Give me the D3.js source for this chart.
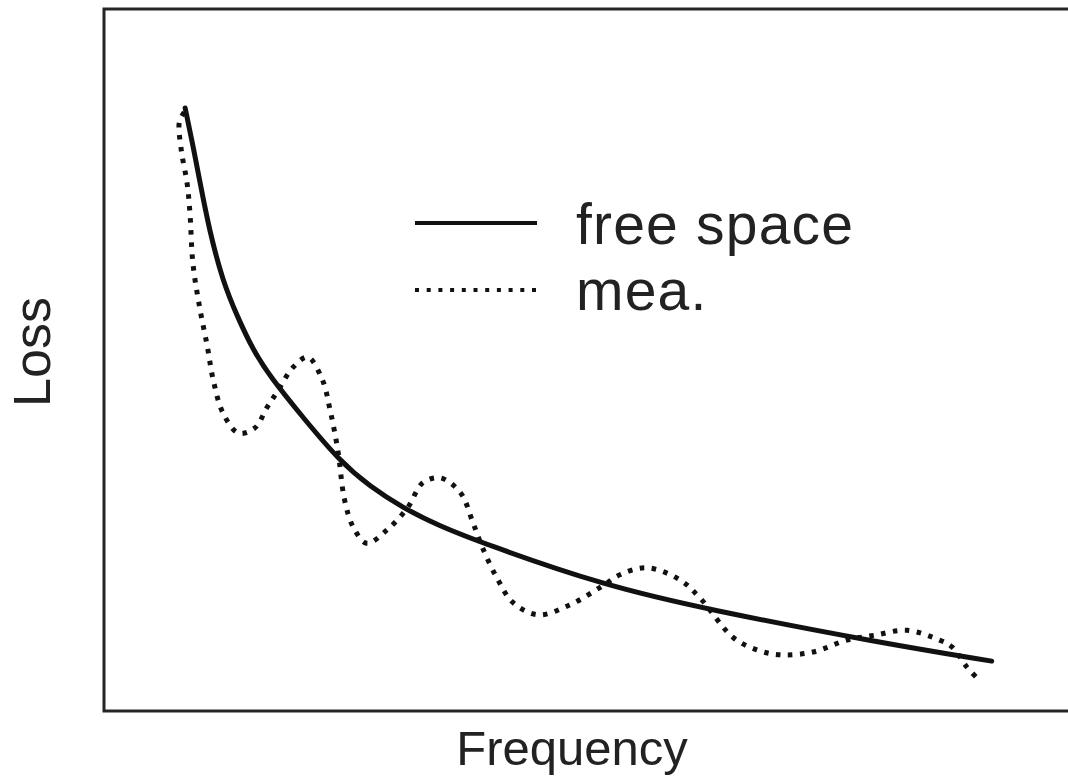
<!DOCTYPE html>
<html>
<head>
<meta charset="utf-8">
<script src="https://cdn.jsdelivr.net/npm/d3@7"></script>
<style>
    body { margin: 0; background: #fff; }
    text { font-family: "Liberation Sans", Arial, sans-serif; fill: #222; }
</style>
</head>
<body>
<div id="chart"></div>
<script>
// free space curve (frequency, loss)
var freeFreq = [8.4, 9.2, 9.9, 10.9, 12.3, 13.8, 15.4, 17.2, 20.6, 24.4, 27.5, 31.0, 34.5, 39.2, 51.7, 62.7, 80.0, 91.9];
var freeLoss = [85.9, 80.6, 75.6, 68.5, 61.2, 56.2, 51.5, 47.6, 41.8, 35.6, 32.0, 28.9, 26.5, 23.9, 17.9, 14.4, 9.8, 7.1];

// measured curve
var meaFreq = [8.3, 7.8, 8.0, 8.6, 8.9, 9.2, 9.9, 10.7, 11.3, 12.3, 13.9, 15.6, 16.9, 17.9, 19.6, 21.1,
    22.6, 23.4, 24.2, 24.9, 25.8, 27.2, 29.3, 31.4, 33.0, 34.8, 36.9, 38.2, 39.2, 40.7, 42.3, 44.9,
    48.2, 51.7, 53.4, 56.2, 59.6, 61.7, 65.1, 67.6, 70.0, 73.4, 76.9, 79.8, 83.1, 86.5, 87.8, 89.3, 90.3];
var meaLoss = [85.3, 83.9, 79.9, 75.2, 70.9, 63.8, 57.5, 51.9, 47.2, 42.5, 39.6, 40.3, 43.3, 45.4, 49.0, 50.4,
    47.2, 42.9, 37.2, 30.1, 26.2, 23.9, 25.8, 28.9, 32.5, 33.2, 31.1, 26.8, 23.2, 18.9, 15.5, 13.7,
    15.1, 17.9, 19.4, 20.4, 18.7, 16.1, 10.5, 8.7, 8.0, 8.4, 10.1, 10.8, 11.5, 10.1, 9.1, 6.3, 4.8];

var seriesNames = ["free space", "mea."];

var width = 1068,
    height = 778,
    margin = { top: 9, right: -2, bottom: 67, left: 104 };

var svg = d3.select("#chart").append("svg")
    .attr("width", width)
    .attr("height", height);

var x = d3.scaleLinear().domain([0, 100]).range([margin.left, width - margin.right]);
var y = d3.scaleLinear().domain([0, 100]).range([height - margin.bottom, margin.top]);

// frame (right side runs off the picture)
svg.append("rect")
    .attr("x", x(0))
    .attr("y", y(100))
    .attr("width", width + 20 - x(0))
    .attr("height", y(0) - y(100))
    .attr("fill", "none")
    .attr("stroke", "#262626")
    .attr("stroke-width", 3);

var freeLine = d3.line()
    .x(function (d) { return x(d[0]); })
    .y(function (d) { return y(d[1]); })
    .curve(d3.curveBasis);

var meaLine = d3.line()
    .x(function (d) { return x(d[0]); })
    .y(function (d) { return y(d[1]); })
    .curve(d3.curveCatmullRom.alpha(0.5));

var freeData = d3.zip(freeFreq, freeLoss);
var meaData = d3.zip(meaFreq, meaLoss);

svg.append("path")
    .datum(meaData)
    .attr("d", meaLine)
    .attr("fill", "none")
    .attr("stroke", "#111")
    .attr("stroke-width", 5)
    .attr("stroke-dasharray", "4.5 7.5");

svg.append("path")
    .datum(freeData)
    .attr("d", freeLine)
    .attr("fill", "none")
    .attr("stroke", "#111")
    .attr("stroke-width", 5)
    .attr("stroke-linecap", "round");

// legend
var legend = svg.append("g");

legend.append("line")
    .attr("x1", 415).attr("x2", 537)
    .attr("y1", 223).attr("y2", 223)
    .attr("stroke", "#111")
    .attr("stroke-width", 4);

legend.append("line")
    .attr("x1", 415).attr("x2", 537)
    .attr("y1", 290).attr("y2", 290)
    .attr("stroke", "#111")
    .attr("stroke-width", 4)
    .attr("stroke-dasharray", "4 7.7");

legend.selectAll("text")
    .data(seriesNames)
    .enter()
    .append("text")
    .attr("x", 576)
    .attr("y", function (d, i) { return 244 + i * 66; })
    .style("font-size", "57px")
    .style("letter-spacing", "1.2px")
    .text(function (d) { return d; });

// axis titles
svg.append("text")
    .attr("x", (x(0) + 1040) / 2)
    .attr("y", 765)
    .attr("text-anchor", "middle")
    .style("font-size", "49px")
    .text("Frequency");

svg.append("text")
    .attr("transform", "translate(50,352) rotate(-90)")
    .attr("text-anchor", "middle")
    .style("font-size", "52px")
    .text("Loss");
</script>
</body>
</html>
